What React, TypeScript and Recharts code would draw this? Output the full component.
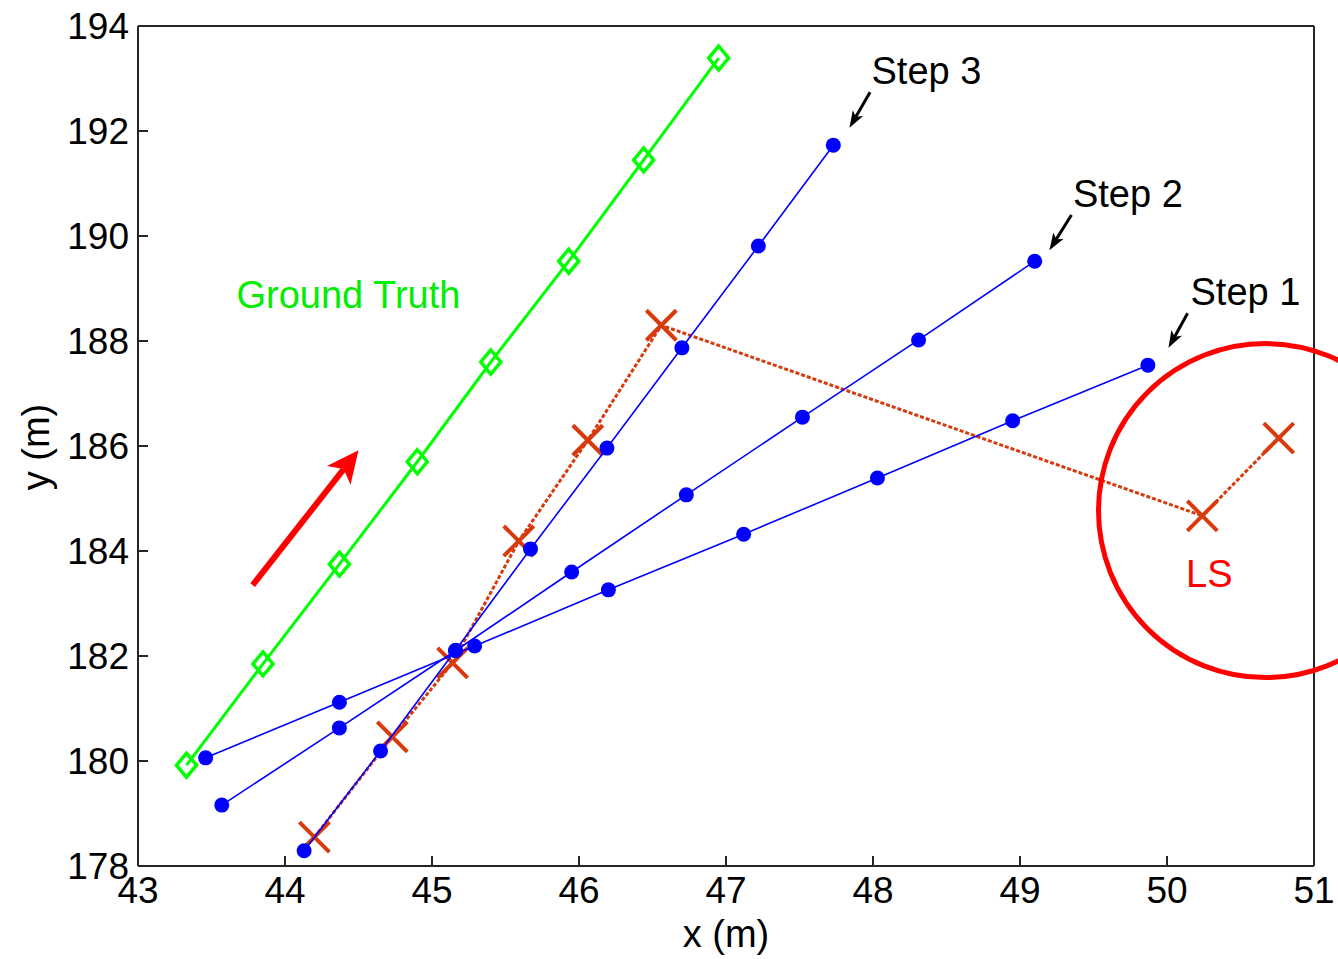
import { ScatterChart, Scatter, XAxis, YAxis, ReferenceDot, ReferenceLine } from 'recharts'

const xTicks = [43, 44, 45, 46, 47, 48, 49, 50, 51]
const yTicks = [178, 180, 182, 184, 186, 188, 190, 192, 194]

const groundTruth = [
  { x: 43.33, y: 179.92 }, { x: 43.85, y: 181.85 }, { x: 44.37, y: 183.75 }, { x: 44.90, y: 185.70 },
  { x: 45.40, y: 187.60 }, { x: 45.93, y: 189.52 }, { x: 46.44, y: 191.45 }, { x: 46.95, y: 193.39 },
]

const step1 = [
  { x: 43.46, y: 180.06 }, { x: 44.37, y: 181.12 }, { x: 45.29, y: 182.19 }, { x: 46.20, y: 183.26 },
  { x: 47.12, y: 184.32 }, { x: 48.03, y: 185.39 }, { x: 48.95, y: 186.48 }, { x: 49.87, y: 187.54 },
]

const step2 = [
  { x: 43.57, y: 179.16 }, { x: 44.37, y: 180.63 }, { x: 45.16, y: 182.10 }, { x: 45.95, y: 183.60 },
  { x: 46.73, y: 185.07 }, { x: 47.52, y: 186.55 }, { x: 48.31, y: 188.02 }, { x: 49.10, y: 189.52 },
]

const step3 = [
  { x: 44.13, y: 178.29 }, { x: 44.65, y: 180.19 }, { x: 45.16, y: 182.11 }, { x: 45.67, y: 184.04 },
  { x: 46.19, y: 185.96 }, { x: 46.70, y: 187.87 }, { x: 47.22, y: 189.81 }, { x: 47.73, y: 191.73 },
]

const lsEstimate = [
  { x: 44.20, y: 178.55 }, { x: 44.73, y: 180.46 }, { x: 45.14, y: 181.87 }, { x: 45.59, y: 184.19 },
  { x: 46.06, y: 186.11 }, { x: 46.56, y: 188.30 }, { x: 50.24, y: 184.67 }, { x: 50.76, y: 186.15 },
]

// text notes, anchored at left/baseline in data coords
const notes = [
  { text: 'Step 3', x: 47.99, y: 192.90, color: '#000000' },
  { text: 'Step 2', x: 49.36, y: 190.55, color: '#000000' },
  { text: 'Step 1', x: 50.16, y: 188.69, color: '#000000' },
  { text: 'Ground Truth', x: 43.67, y: 188.63, color: '#00ee00' },
  { text: 'LS', x: 50.13, y: 183.31, color: '#ff0000' },
]

// arrows: tail -> tip
const pointers = [
  { from: { x: 47.98, y: 192.74 }, to: { x: 47.84, y: 192.06 } },
  { from: { x: 49.35, y: 190.40 }, to: { x: 49.20, y: 189.73 } },
  { from: { x: 50.14, y: 188.53 }, to: { x: 50.01, y: 187.87 } },
]
const direction = { from: { x: 43.78, y: 183.35 }, to: { x: 44.50, y: 185.92 } }

const FONT = '"Liberation Sans", Arial, sans-serif'
const RED = '#d83a0c'
const BLUE = '#0000ff'
const GREEN = '#00ff00'
const AXIS = { stroke: '#262626', strokeWidth: 2 }

/* eslint-disable @typescript-eslint/no-explicit-any */
const diamond = (p: any) => (
  <path
    d={`M${p.cx},${p.cy - 12} L${p.cx + 10},${p.cy} L${p.cx},${p.cy + 12} L${p.cx - 10},${p.cy} Z`}
    fill="none" stroke={GREEN} strokeWidth={3.5}
  />
)

const dot = (p: any) => <circle cx={p.cx} cy={p.cy} r={7.5} fill={BLUE} />

const cross = (p: any) => (
  <g stroke={RED} strokeWidth={4}>
    <line x1={p.cx - 15} y1={p.cy - 15} x2={p.cx + 15} y2={p.cy + 15} />
    <line x1={p.cx - 15} y1={p.cy + 15} x2={p.cx + 15} y2={p.cy - 15} />
  </g>
)

function arrow(color: string, width: number, head: number, half: number) {
  return (p: any) => {
    const { x1, y1, x2, y2 } = p
    const len = Math.hypot(x2 - x1, y2 - y1) || 1
    const ux = (x2 - x1) / len
    const uy = (y2 - y1) / len
    const bx = x2 - ux * head
    const by = y2 - uy * head
    const nx = x2 - ux * head * 0.75
    const ny = y2 - uy * head * 0.75
    return (
      <g>
        <line x1={x1} y1={y1} x2={nx} y2={ny} stroke={color} strokeWidth={width} />
        <polygon
          points={`${x2},${y2} ${bx - uy * half},${by + ux * half} ${nx},${ny} ${bx + uy * half},${by - ux * half}`}
          fill={color}
        />
      </g>
    )
  }
}

const noteShape = (text: string, color: string) => (p: any) => (
  <text x={p.cx} y={p.cy} fill={color} fontSize={38} fontFamily={FONT}>{text}</text>
)
/* eslint-enable @typescript-eslint/no-explicit-any */

const tickStyle = { fontSize: 37, fill: '#000', fontFamily: FONT }
const blank = () => ''

export default function App() {
  return (
    <div style={{ position: 'absolute', left: 0, top: 0, background: '#fff' }}>
      <ScatterChart width={1338} height={959} margin={{ top: 25, right: 23, bottom: 33, left: 8 }}>
        <XAxis
          dataKey="x" type="number" domain={[43, 51]} ticks={xTicks} allowDataOverflow
          height={60} tickSize={-10} tickMargin={21} tick={tickStyle}
          axisLine={AXIS} tickLine={AXIS}
          label={{
            content: (p: any) => {
              const vb = p.viewBox || { x: 138, y: 866, width: 1176 }
              return (
                <text x={vb.x + vb.width / 2} y={vb.y + 81} textAnchor="middle" fontSize={38} fontFamily={FONT} fill="#000">
                  x (m)
                </text>
              )
            },
          }}
        />
        <XAxis
          xAxisId="top" orientation="top" dataKey="x" type="number" domain={[43, 51]} ticks={xTicks}
          height={1} tickSize={-10} tickMargin={0} tick={{ fontSize: 1 }} tickFormatter={blank}
          axisLine={AXIS} tickLine={AXIS}
        />
        <YAxis
          dataKey="y" type="number" domain={[178, 194]} ticks={yTicks} allowDataOverflow
          width={130} tickSize={-10} tickMargin={19} tick={tickStyle}
          axisLine={AXIS} tickLine={AXIS}
          label={{
            content: (p: any) => {
              const vb = p.viewBox || { x: 8, y: 26, height: 840 }
              const cx = vb.x + 41
              const cy = vb.y + vb.height / 2 + 1
              return (
                <text x={cx} y={cy} transform={`rotate(-90 ${cx} ${cy})`} textAnchor="middle" fontSize={38} fontFamily={FONT} fill="#000">
                  y (m)
                </text>
              )
            },
          }}
        />
        <YAxis
          yAxisId="right" orientation="right" dataKey="y" type="number" domain={[178, 194]} ticks={yTicks}
          width={1} tickSize={-10} tickMargin={0} tick={{ fontSize: 1 }} tickFormatter={blank}
          axisLine={AXIS} tickLine={AXIS}
        />

        <Scatter name="Ground Truth" data={groundTruth} line={{ stroke: GREEN, strokeWidth: 3 }} shape={diamond} isAnimationActive={false} />
        <Scatter name="LS" data={lsEstimate} line={{ stroke: RED, strokeWidth: 3, strokeDasharray: '4 2' }} shape={cross} isAnimationActive={false} />
        <Scatter name="Step 1" data={step1} line={{ stroke: BLUE, strokeWidth: 1.6 }} shape={dot} isAnimationActive={false} />
        <Scatter name="Step 2" data={step2} line={{ stroke: BLUE, strokeWidth: 1.6 }} shape={dot} isAnimationActive={false} />
        <Scatter name="Step 3" data={step3} line={{ stroke: BLUE, strokeWidth: 1.6 }} shape={dot} isAnimationActive={false} />

        {pointers.map((a, i) => (
          <ReferenceLine key={i} segment={[a.from, a.to]} ifOverflow="visible" shape={arrow('#000', 3, 17, 6)} />
        ))}
        <ReferenceLine segment={[direction.from, direction.to]} ifOverflow="visible" shape={arrow('#ff0000', 6, 32, 15)} />

        {notes.map((n) => (
          <ReferenceDot key={n.text} x={n.x} y={n.y} r={0} ifOverflow="visible" shape={noteShape(n.text, n.color)} />
        ))}

        <ReferenceDot x={50.67} y={184.77} r={167} fill="none" stroke="#ff0000" strokeWidth={5} ifOverflow="visible" />
      </ScatterChart>
    </div>
  )
}
